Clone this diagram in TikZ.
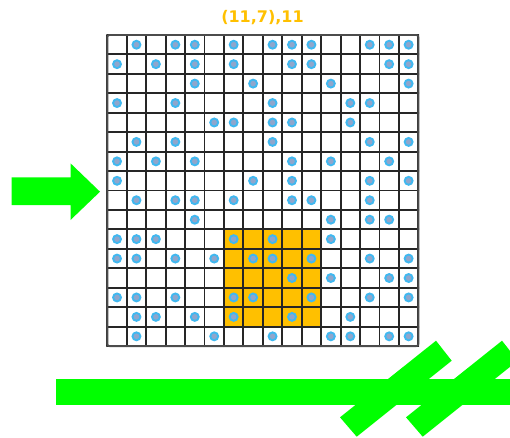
\documentclass[tikz,border=0pt]{standalone}
\usepackage{fontspec}
\newfontfamily\titlefont{DejaVu Sans}
\usetikzlibrary{calc}
\definecolor{brightgreen}{HTML}{00FF00}
\definecolor{cellorange}{HTML}{FFC000}
\definecolor{dotring}{HTML}{40B8F0}
\definecolor{dotcore}{HTML}{8FA6CC}

\begin{document}
\begin{tikzpicture}[x=1pt, y=-1pt, line cap=round, line join=round,
  gridline/.style={line width=1.9pt, black!85},
  greenshape/.style={fill=brightgreen}]
  % --- Khung ---
  \clip (0,0) rectangle (510,437);
  % --- Toạ độ ---
  \coordinate (G) at (107.3,35);   % góc trên trái của lưới
  \def\cw{19.44}

  % --- Khối cam (cột 6-10, hàng 10-14) ---
  \fill[cellorange] ($(G)+(6*\cw,10*\cw)$) rectangle ($(G)+(11*\cw,15*\cw)$);

  % --- Lưới 16x16 ---
  \foreach \i in {0,...,16} {
    \draw[gridline] ($(G)+(\i*\cw,0)$) -- ($(G)+(\i*\cw,16*\cw)$);
    \draw[gridline] ($(G)+(0,\i*\cw)$) -- ($(G)+(16*\cw,\i*\cw)$);
  }
  \draw[line width=1.9pt, black!70, rounded corners=2pt] (G) rectangle ($(G)+(16*\cw,16*\cw)$);

  % --- Chấm ---
  \foreach \r/\cols in {0/{1,3,4,6,8,9,10,13,14,15}, 1/{0,2,4,6,9,10,14,15},
      2/{4,7,11,15}, 3/{0,3,8,12,13}, 4/{5,6,8,9,12}, 5/{1,3,8,13,15},
      6/{0,2,4,9,11,14}, 7/{0,7,9,13,15}, 8/{1,3,4,6,9,10,13},
      9/{4,11,13,14}, 10/{0,1,2,6,8,11}, 11/{0,1,3,5,7,8,10,13,15},
      12/{9,11,14,15}, 13/{0,1,3,6,7,10,13,15}, 14/{1,2,4,6,9,12},
      15/{1,5,8,11,12,14,15}}
    \foreach \c in \cols {
      \fill[dotring] ($(G)+(\c*\cw+0.5*\cw,\r*\cw+0.5*\cw)$) circle (5);
      \fill[dotcore] ($(G)+(\c*\cw+0.5*\cw,\r*\cw+0.5*\cw)$) circle (2.8);
    }

  % --- Nhãn ---
  \node[text=cellorange, font=\titlefont\bfseries\fontsize{16}{16}\selectfont] (title) at (262.5,18) {(11,7),11};

  % --- Mũi tên xanh ---
  \fill[greenshape] (11.7,177.3) -- (70.5,177.3) -- (70.5,163.3) -- (100,191.7)
    -- (70.5,220) -- (70.5,205) -- (11.7,205) -- cycle;

  % --- Thanh ngang và hai nét gạch ---
  \fill[greenshape] (56,379.3) rectangle (520,405);
  \foreach \dx in {0,66}
    \fill[greenshape, shift={(\dx,0)}] (340,417.3) -- (356.7,436.7) -- (451.7,360.7) -- (436,340.7) -- cycle;
\end{tikzpicture}
\end{document}
